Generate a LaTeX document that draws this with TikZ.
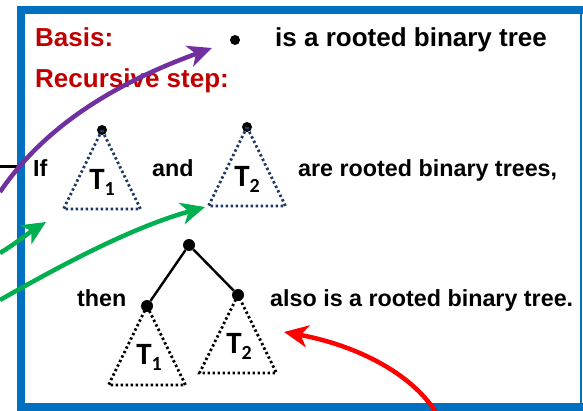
\documentclass[tikz,border=0pt]{standalone}
\usepackage{fontspec}
\setmainfont{Liberation Sans}
\newfontfamily\calfont{Carlito}
\usepackage{tikz}
\usetikzlibrary{arrows.meta}
\usepackage{xcolor}
\definecolor{frameblue}{HTML}{0070C0}
\definecolor{basisred}{HTML}{C00000}
\definecolor{arrowpurple}{HTML}{7030A0}
\definecolor{arrowgreen}{HTML}{00B050}
\definecolor{arrowred}{HTML}{FF0000}
\definecolor{dotnavy}{HTML}{1F3864}

\newcommand{\tlabel}[1]{{\calfont\bfseries\fontsize{31}{31}\selectfont T\raisebox{-0.4ex}{\fontsize{20}{20}\selectfont #1}}}

\begin{document}
\begin{tikzpicture}[x=1pt,y=-1pt,
    txt/.style={anchor=base west, inner sep=0pt, font=\bfseries\fontsize{23.3}{28}\selectfont},
    toptxt/.style={txt, font=\bfseries\fontsize{26}{30}\selectfont},
    redtxt/.style={toptxt, text=basisred},
    dot/.style={circle, fill=black, inner sep=0pt, minimum size=#1},
    dotline/.style={line width=2.8pt, dash pattern=on 2.4pt off 2.6pt},
    treeedge/.style={line width=2.4pt},
    bigarrow/.style={line width=4.5pt, -{Stealth[length=24pt, width=22pt, inset=7pt]}}]

          % Variables
          \def \dx {38.5}
          \def \dy {79}

          % Frame
          \useasboundingbox (0,0) rectangle (583,411);
          \fill[white] (0,0) rectangle (583,411);
          \draw[line width=3pt] (0,167) -- (17,167);
          \draw[frameblue, line width=8pt] (21,6) -- (21,411);
          \draw[frameblue, line width=8pt] (17,10) -- (583,10);
          \draw[frameblue, line width=8pt] (17,407) -- (583,407);
          \draw[frameblue, line width=2pt] (581,6) -- (581,411);

          % Text
          \node[redtxt] (basis) at (35,47) {Basis:};
          \node[dot=10pt] (bullet) at (235,40) {};
          \node[toptxt] (basistxt) at (275,47) {is a rooted binary tree};
          \node[redtxt] (recstep) at (35,88) {Recursive step:};
          \node[txt] (if) at (33,177) {If};
          \node[txt] (and) at (152,177) {and};
          \node[txt] (are) at (298,177) {are rooted binary trees,};
          \node[txt] (then) at (77,306) {then};
          \node[txt] (also) at (270,306) {also is a rooted binary tree.};

          % Subtrees T1 and T2
          \node[dot=10pt] (topa) at (102,130) {};
          \node[dot=10pt] (topb) at (247,127) {};
          \draw[dotline, dotnavy] (topa.center) -- ++(-\dx,\dy) -- ++(2*\dx,0) -- cycle;
          \draw[dotline, dotnavy] (topb.center) -- ++(-\dx,\dy) -- ++(2*\dx,0) -- cycle;
          \node (topalabel) at (102,182) {\tlabel{1}};
          \node (topblabel) at (247,179) {\tlabel{2}};

          % New tree
          \node[dot=12pt] (root) at (189,245) {};
          \node[dot=12pt] (lchild) at (147,306) {};
          \node[dot=12pt] (rchild) at (238,295) {};
          \draw[treeedge] (root) -- (lchild);
          \draw[treeedge] (root) -- (rchild);
          \draw[dotline] (lchild.center) -- ++(-\dx,\dy) -- ++(2*\dx,0) -- cycle;
          \draw[dotline] (rchild.center) -- ++(-\dx,\dy-1) -- ++(2*\dx,0) -- cycle;
          \node (lowalabel) at (149,357) {\tlabel{1}};
          \node (lowblabel) at (239,346) {\tlabel{2}};

          % Arrows
          \coordinate (purplestart) at (0,192);
          \coordinate (purpletip) at ([xshift=-23pt,yshift=-8pt]bullet.center);
          \coordinate (greenastart) at (0,253);
          \coordinate (greenatip) at (46,222);
          \coordinate (greenbstart) at (0,300);
          \coordinate (greenbtip) at (205,207);
          \coordinate (redstart) at (437,414);
          \coordinate (redtip) at (284,332);
          \draw[bigarrow, arrowpurple] (purplestart) .. controls (50,118) and (130,78) .. (purpletip);
          \draw[bigarrow, arrowgreen] (greenastart) .. controls (15,244) and (30,232) .. (greenatip);
          \draw[bigarrow, arrowgreen] (greenbstart) .. controls (60,266) and (130,228) .. (greenbtip);
          \draw[bigarrow, arrowred] (redstart) .. controls (410,370) and (350,344) .. (redtip);

        \end{tikzpicture}
\end{document}
